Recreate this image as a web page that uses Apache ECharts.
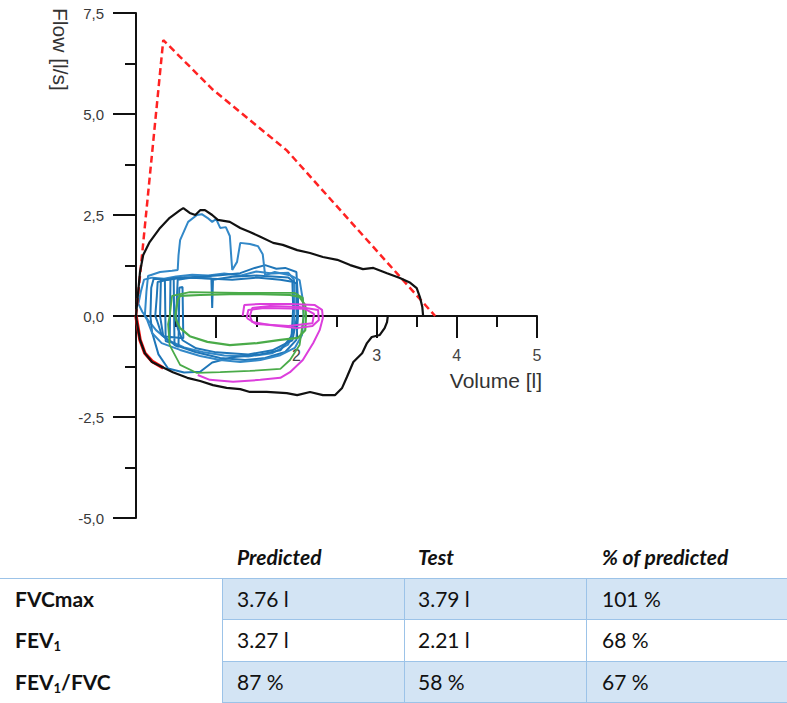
<!DOCTYPE html>
<html>
<head>
<meta charset="utf-8">
<script src="https://cdn.jsdelivr.net/npm/echarts@6/dist/echarts.min.js"></script>
<style>
html,body{margin:0;padding:0;background:#fff;}
#wrap{position:relative;width:787px;height:703px;overflow:hidden;}
#chart{position:absolute;left:0;top:0;width:787px;height:545px;}
.cell{position:absolute;font-family:Lato,"Open Sans",sans-serif;font-size:21px;color:#111;white-space:nowrap;}
.hdr{font-weight:bold;font-style:italic;}
.lbl{font-weight:bold;}
.fill{position:absolute;background:#d3e4f4;}
.hl{position:absolute;height:1px;background:#9cc3e8;}
.vl{position:absolute;width:1px;background:#9cc3e8;}
sub{font-size:62%;vertical-align:-0.25em;}
</style>
</head>
<body>
<div id="wrap">
<div id="chart"></div>
<div id="table"></div>
</div>
<script>
// ---- chart data: [volume (l), flow (l/s)] ----
var predExp = [[0,0],[0.34,6.83],[0.96,5.6],[1.88,4.1],[3.73,0]];
var predInsp = [[0,0],[0.01,-0.12],[0.05,-0.59],[0.11,-0.92],[0.20,-1.12],[0.34,-1.29]];
var blackExp = [[0,0],[0.012,0.27],[0.05,1.09],[0.09,1.51],[0.17,1.83],[0.30,2.18],[0.42,2.43],[0.55,2.62],[0.59,2.67],[0.67,2.55],[0.74,2.50],[0.80,2.62],[0.86,2.62],[0.95,2.50],[1.02,2.38],[1.17,2.33],[1.30,2.18],[1.42,2.08],[1.55,1.96],[1.71,1.81],[1.83,1.76],[2.01,1.63],[2.17,1.56],[2.33,1.46],[2.51,1.39],[2.67,1.26],[2.83,1.16],[2.96,1.19],[3.13,1.06],[3.29,0.94],[3.42,0.82],[3.50,0.69],[3.54,0.47],[3.57,0.22],[3.58,0]];
var blackInsp = [[0,0],[0.01,-0.15],[0.05,-0.59],[0.11,-0.92],[0.20,-1.14],[0.30,-1.24],[0.46,-1.39],[0.64,-1.53],[0.80,-1.61],[0.96,-1.71],[1.13,-1.78],[1.30,-1.81],[1.42,-1.88],[1.63,-1.88],[1.88,-1.91],[2.01,-1.96],[2.17,-1.88],[2.33,-1.96],[2.48,-1.96],[2.57,-1.78],[2.63,-1.51],[2.71,-1.14],[2.82,-0.92],[2.88,-0.67],[2.94,-0.52],[3.04,-0.47],[3.10,-0.30],[3.13,-0.15],[3.14,0]];
var blueA = [[0.11,0],[0.13,0.6],[0.15,0.99],[0.30,1.09],[0.45,1.12],[0.52,1.14],[0.53,1.5],[0.55,1.88],[0.65,2.33],[0.76,2.50],[0.82,2.52],[0.89,2.43],[0.95,2.33],[1.00,2.40],[1.05,2.18],[1.12,2.20],[1.17,1.98],[1.19,1.4],[1.20,1.14],[1.26,1.34],[1.30,1.81],[1.42,1.78],[1.52,1.73],[1.58,1.53],[1.61,1.01],[1.73,1.09],[1.92,1.01],[2.04,0.89],[2.08,0.40],[2.09,0],[2.07,-0.47],[1.98,-0.79],[1.80,-0.97],[1.55,-1.09],[1.30,-1.14],[1.05,-1.09],[0.80,-0.99],[0.55,-0.84],[0.32,-0.67],[0.20,-0.42],[0.14,-0.10],[0.11,0]];
var blueB = [[0.24,0],[0.26,0.5],[0.27,0.84],[0.49,0.94],[0.80,0.97],[1.05,1.01],[1.30,1.06],[1.48,1.19],[1.61,1.26],[1.75,1.17],[1.86,1.19],[2.0,1.09],[2.02,0.40],[2.02,0],[2.0,-0.59],[1.86,-0.89],[1.61,-1.04],[1.36,-1.09],[1.05,-1.04],[0.74,-0.89],[0.49,-0.72],[0.32,-0.47],[0.26,-0.10],[0.24,0]];
var blueC = [[0.03,0.3],[0.06,0.6],[0.10,0.9],[0.2,0.95],[0.35,0.92],[0.5,0.98],[0.7,1.02],[0.9,1.0],[1.1,1.05],[1.3,1.0],[1.5,1.1],[1.7,1.05],[1.9,1.07],[1.97,0.9],[1.98,0.3],[1.97,-0.3],[1.9,-0.7],[1.7,-0.92],[1.4,-1.0],[1.1,-0.98],[0.85,-0.9],[0.6,-0.78],[0.4,-0.6],[0.25,-0.35],[0.15,-0.1],[0.08,0.1],[0.03,0.3]];
var blueD = [[0.18,0],[0.19,0.7],[0.22,0.92],[0.4,0.9],[0.6,0.95],[0.9,0.93],[1.2,0.9],[1.5,0.95],[1.8,0.9],[1.95,0.85],[1.96,0.2],[1.94,-0.5],[1.8,-0.85],[1.55,-0.95],[1.2,-1.02],[0.95,-1.15],[0.8,-1.38],[0.6,-1.40],[0.4,-1.30],[0.28,-0.95],[0.2,-0.4],[0.18,0]];
var blueE = [[0.5,0],[0.52,0.9],[0.7,0.95],[0.94,0.93],[0.95,0.2],[0.96,0.9],[1.2,0.97],[1.5,1.0],[1.9,0.95],[2.0,0.8],[2.01,0],[1.95,-0.6],[1.7,-0.85],[1.4,-0.95],[1.0,-0.9],[0.75,-0.8],[0.58,-0.6],[0.52,-0.3],[0.5,0]];
var blueF = [[0.30,0],[0.31,0.88],[0.36,0.9],[0.37,-0.62],[0.42,-0.66],[0.43,0.92],[0.47,0.93],[0.48,-0.72],[0.53,-0.76],[0.54,0.7],[0.58,0.72],[0.59,-0.55],[0.34,-0.5],[0.30,0]];
var greenA = [[0.49,0],[0.52,0.40],[0.55,0.50],[0.80,0.52],[1.17,0.54],[1.55,0.54],[1.92,0.52],[2.04,0.47],[2.11,0.27],[2.12,0],[2.11,-0.35],[2.02,-0.54],[1.80,-0.59],[1.51,-0.67],[1.17,-0.72],[0.89,-0.64],[0.67,-0.50],[0.55,-0.30],[0.50,-0.10],[0.49,0]];
var greenB = [[0.42,0],[0.45,0.50],[0.67,0.59],[1.30,0.57],[1.98,0.57],[2.08,0.45],[2.09,0],[2.04,-0.72],[1.92,-1.09],[1.80,-1.31],[1.42,-1.36],[1.05,-1.39],[0.76,-1.41],[0.55,-1.21],[0.42,-0.72],[0.40,-0.2],[0.42,0]];
var magA = [[1.33,0],[1.35,0.27],[1.55,0.30],[1.92,0.30],[2.23,0.27],[2.32,0.15],[2.33,-0.05],[2.29,-0.35],[2.21,-0.67],[2.08,-1.09],[1.92,-1.39],[1.80,-1.53],[1.55,-1.58],[1.21,-1.63],[0.92,-1.58],[0.77,-1.46]];
var magB = [[1.42,0],[1.45,0.2],[1.67,0.25],[2.04,0.22],[2.27,0.15],[2.28,-0.1],[2.2,-0.25],[2.0,-0.3],[1.67,-0.22],[1.45,-0.15],[1.42,0]];
var magC = [[1.38,-0.05],[1.4,0.15],[1.6,0.2],[2.1,0.18],[2.22,0.05],[2.2,-0.18],[1.9,-0.25],[1.5,-0.2],[1.38,-0.05]];

// ---- axis settings and tick labels ----
var xMin = 0, xMax = 5, xStep = 1;
var yMin = -5, yMax = 7.5, yStep = 2.5;
var xTickLabels = ['', '', '2', '3', '4', '5'];   // "1" is hidden under the loops in the original
var yTickLabels = ['-5,0', '-2,5', '0,0', '2,5', '5,0', '7,5'];

// ---- table data ----
var colHeaders = ['Predicted','Test','% of predicted'];
var rowLabels = ['FVCmax','FEV<sub>1</sub>','FEV<sub>1</sub>/FVC'];
var predictedVals = ['3.76 l','3.27 l','87 %'];
var testVals = ['3.79 l','2.21 l','58 %'];
var pctVals = ['101 %','68 %','67 %'];

var GRID = {left:136, top:13, width:401, height:505};
var chart = echarts.init(document.getElementById('chart'), null, {renderer:'svg'});
function ln(data, color, width, type, z){
  return {type:'line', data:data, showSymbol:false, symbol:'none', smooth:false, z:z||2,
    lineStyle:{color:color, width:width, type:type||'solid'}, animation:false, silent:true};
}
var BLUE='#1f76b8', BLUE2='#3288c8', GREEN='#4aab49', MAG='#dc3edc';
var xAxisOffset = -GRID.height * (0 - yMin) / (yMax - yMin);
chart.setOption({
  animation:false,
  grid:{left:GRID.left, top:GRID.top, width:GRID.width, height:GRID.height, containLabel:false, outerBoundsMode:'none'},
  xAxis:{type:'value', min:xMin, max:xMax, interval:xStep, position:'bottom', offset:xAxisOffset,
    axisLine:{onZero:false, lineStyle:{color:'#111', width:2}},
    axisTick:{show:true, length:22, lineStyle:{color:'#111', width:2}},
    minorTick:{show:true, splitNumber:2, length:11, lineStyle:{color:'#111', width:2}},
    splitLine:{show:false}, minorSplitLine:{show:false},
    axisLabel:{margin:31, fontSize:16, color:'#444', fontFamily:'Liberation Sans',
      formatter:function(v){var i=Math.round((v-xMin)/xStep); return xTickLabels[i]||'';}}
  },
  yAxis:{type:'value', min:yMin, max:yMax, interval:yStep,
    axisLine:{show:true, onZero:false, lineStyle:{color:'#111', width:2}},
    axisTick:{show:true, length:23, lineStyle:{color:'#111', width:2}},
    minorTick:{show:true, splitNumber:2, length:11, lineStyle:{color:'#111', width:2}},
    splitLine:{show:false}, minorSplitLine:{show:false},
    axisLabel:{margin:32, fontSize:15, color:'#3a3a3a', fontFamily:'Liberation Sans',
      formatter:function(v){var i=Math.round((v-yMin)/yStep); return yTickLabels[i]||'';}}
  },
  graphic:[
    {type:'text', x:60, y:8, rotation:-Math.PI/2,
      style:{text:'Flow [l/s]', fontSize:21, fontFamily:'Liberation Sans', fill:'#333', textAlign:'left', textVerticalAlign:'middle'}},
    {type:'text', x:542, y:380,
      style:{text:'Volume [l]', fontSize:21, fontFamily:'Liberation Sans', fill:'#333', textAlign:'right', textVerticalAlign:'middle'}}
  ],
  series:[
    ln(predExp,'#f22',2.5,[7,4],3),
    ln(predInsp,'#f11',3.5,'solid',3),
    ln(blueC,BLUE2,2),
    ln(blueD,BLUE,2),
    ln(blueE,BLUE,2),
    ln(blueF,BLUE,2),
    ln(blueB,BLUE,2),
    ln(blueA,BLUE2,2),
    ln(greenA,GREEN,2.2),
    ln(greenB,GREEN,1.8),
    ln(magA,MAG,2),
    ln(magB,MAG,2),
    ln(magC,MAG,2),
    ln(blackExp,'#111',2.2,'solid',4),
    ln(blackInsp,'#111',2.2,'solid',4)
  ]
});

// ---- table ----
(function(){
  var t = document.getElementById('table');
  var html = '';
  var colX = [222,404,586];
  var textX = [237,418,602];
  var rowTop = [578,619,661];
  var rowH = [41,42,41];
  [0,2].forEach(function(r){
    html += '<div class="fill" style="left:222px;top:'+rowTop[r]+'px;width:565px;height:'+rowH[r]+'px"></div>';
  });
  html += '<div class="hl" style="left:0;top:578px;width:787px"></div>';
  [619,661,702].forEach(function(y){ html += '<div class="hl" style="left:222px;top:'+y+'px;width:565px"></div>'; });
  colX.forEach(function(x){ html += '<div class="vl" style="left:'+x+'px;top:578px;height:125px"></div>'; });
  colHeaders.forEach(function(h,i){
    html += '<div class="cell hdr" style="left:'+textX[i]+'px;top:541px;line-height:32px">'+h+'</div>';
  });
  rowLabels.forEach(function(l,r){
    var top = rowTop[r];
    html += '<div class="cell lbl" style="left:15px;top:'+top+'px;line-height:'+rowH[r]+'px">'+l+'</div>';
    var vals = [predictedVals[r], testVals[r], pctVals[r]];
    vals.forEach(function(v,i){
      html += '<div class="cell" style="left:'+textX[i]+'px;top:'+top+'px;line-height:'+rowH[r]+'px">'+v+'</div>';
    });
  });
  t.innerHTML = html;
})();
</script>
</body>
</html>
